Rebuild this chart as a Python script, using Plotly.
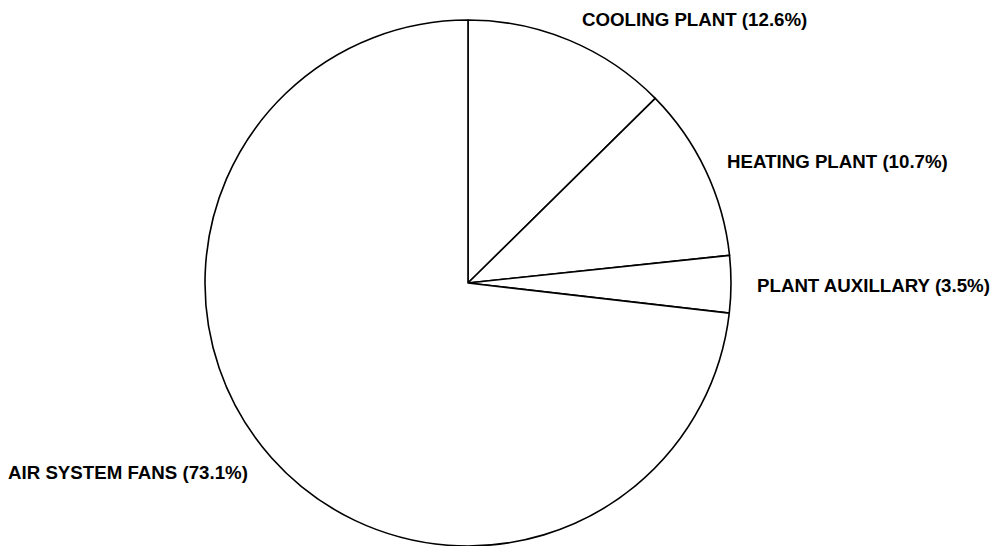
import plotly.graph_objects as go

categories = ["COOLING PLANT", "HEATING PLANT", "PLANT AUXILLARY", "AIR SYSTEM FANS"]
shares = [12.6, 10.7, 3.5, 73.1]

# label anchor positions (paper coords, left-anchored)
label_x = [0.583, 0.7287, 0.7588, 0.006]
label_y = [0.9634, 0.705, 0.478, 0.1355]

W, H = 995, 546
cx, cy, r = 468, 283, 263

fig = go.Figure(go.Pie(
    labels=categories,
    values=shares,
    sort=False,
    direction="clockwise",
    rotation=0,
    textinfo="none",
    hoverinfo="label+percent",
    marker=dict(colors=["white"] * len(categories), line=dict(color="black", width=1.6)),
    domain=dict(x=[(cx - r) / W, (cx + r) / W], y=[(H - cy - r) / H, (H - cy + r) / H]),
    showlegend=False,
))

for cat, val, x, y in zip(categories, shares, label_x, label_y):
    fig.add_annotation(
        text=f"{cat} ({val}%)", x=x, y=y, xref="paper", yref="paper",
        xanchor="left", yanchor="middle", showarrow=False,
        font=dict(family="Liberation Sans", size=18.7, color="black", weight="bold"),
    )

fig.update_layout(
    width=W, height=H,
    margin=dict(l=0, r=0, t=0, b=0),
    paper_bgcolor="white", plot_bgcolor="white",
)

fig.write_html(
    "out.html",
    config={"displayModeBar": False},
    post_script="document.body.style.margin='0';document.body.style.overflow='hidden';",
)
